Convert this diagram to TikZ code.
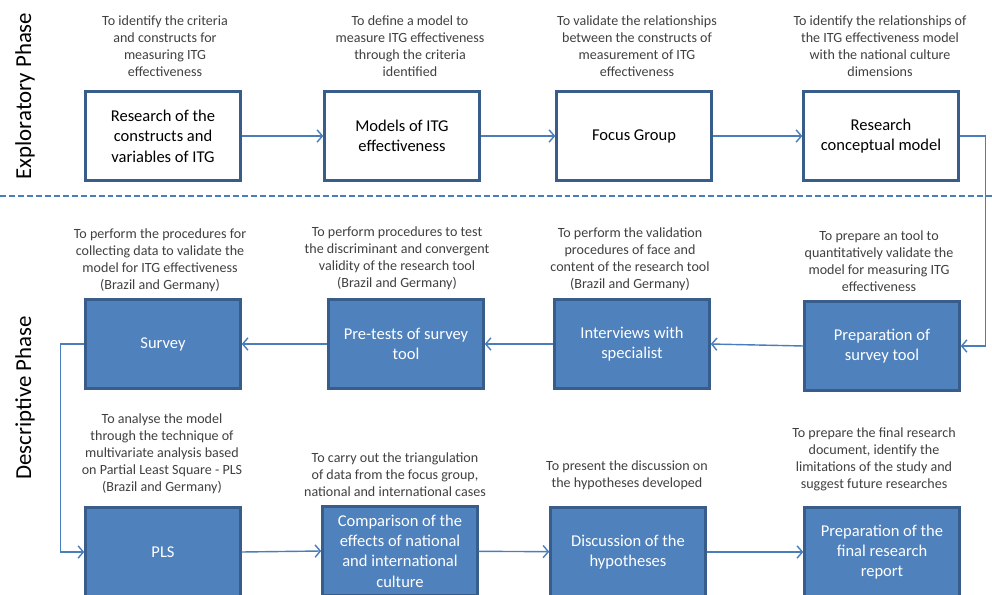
\documentclass[tikz,border=0pt]{standalone}
\usepackage{fontspec}
\setmainfont{Carlito}
\usetikzlibrary{arrows.meta}
\definecolor{boxblue}{HTML}{4F81BD}
\definecolor{boxedge}{HTML}{385D8A}
\definecolor{linkblue}{HTML}{4A7EBB}
\definecolor{notegray}{HTML}{404040}
\tikzset{
  phasebox/.style={draw=boxedge, line width=1.4pt, minimum width=3.1cm, minimum height=1.78cm, inner sep=2pt, align=center, font=\fontsize{9.4}{11.6}\selectfont},
  openbox/.style={phasebox, fill=white, text=black},
  fillbox/.style={phasebox, fill=boxblue, text=white},
  note/.style={anchor=south, align=center, text=notegray, inner sep=0pt, font=\fontsize{8}{9.7}\selectfont},
  link/.style={draw=linkblue, line width=0.8pt, -{Straight Barb[length=3pt,width=7pt]}},
  phase/.style={rotate=90, font=\fontsize{13}{15}\selectfont}
}
\begin{document}
\begin{tikzpicture}[x=0.02cm,y=-0.02cm]
\useasboundingbox (0,0) rectangle (992,595);
% phases
\node[phase] (explo) at (25,96) {Exploratory Phase};
\node[phase] (descr) at (25,398) {Descriptive Phase};
\draw[linkblue, line width=0.8pt, dash pattern=on 3.4pt off 1.7pt] (0,196) -- (992,196);
% exploratory row
\node[openbox] (research) at (163,136) {Research of the\\constructs and\\variables of ITG};
\node[openbox] (models) at (402,136) {Models of ITG\\effectiveness};
\node[openbox] (focus) at (634,136) {Focus Group};
\node[openbox] (concept) at (881,136) {Research\\conceptual model};
\node[note] (noteresearch) at (165,77) {To identify the criteria\\and constructs for\\measuring ITG\\effectiveness};
\node[note] (notemodels) at (410,77) {To define a model to\\measure ITG effectiveness\\through the criteria\\identified};
\node[note] (notefocus) at (637,77) {To validate the relationships\\between the constructs of\\measurement of ITG\\effectiveness};
\node[note] (noteconcept) at (880,77) {To identify the relationships of\\the ITG effectiveness model\\with the national culture\\dimensions};
% descriptive rows
\node[fillbox] (survey) at (163,344) {Survey};
\node[fillbox] (pretest) at (406,344) {Pre-tests of survey\\tool};
\node[fillbox] (interview) at (632,344) {Interviews with\\specialist};
\node[fillbox] (prepare) at (882,346) {Preparation of\\survey tool};
\node[note] (notesurvey) at (160,292) {To perform the procedures for\\collecting data to validate the\\model for ITG effectiveness\\(Brazil and Germany)};
\node[note] (notepretest) at (397,290) {To perform procedures to test\\the discriminant and convergent\\validity of the research tool\\(Brazil and Germany)};
\node[note] (noteinterview) at (630,291) {To perform the validation\\procedures of face and\\content of the research tool\\(Brazil and Germany)};
\node[note] (noteprepare) at (879,292) {To prepare an tool to\\quantitatively validate the\\model for measuring ITG\\effectiveness};
\node[fillbox] (pls) at (163,552) {PLS};
\node[fillbox] (compare) at (400,551) {Comparison of the\\effects of national\\and international\\culture};
\node[fillbox] (discuss) at (628,552) {Discussion of the\\hypotheses};
\node[fillbox] (final) at (882,552) {Preparation of the\\final research\\report};
\node[note] (notepls) at (162,494) {To analyse the model\\through the technique of\\multivariate analysis based\\on Partial Least Square - PLS\\(Brazil and Germany)};
\node[note] (notecompare) at (395,497) {To carry out the triangulation\\of data from the focus group,\\national and international cases};
\node[note] (notediscuss) at (627,490) {To present the discussion on\\the hypotheses developed};
\node[note] (notefinal) at (874,491) {To prepare the final research\\document, identify the\\limitations of the study and\\suggest future researches};
% links
\draw[link] (research) -- (models);
\draw[link] (models) -- (focus);
\draw[link] (focus) -- (concept);
\draw[link] (concept.east) -- ++(26,0) |- (prepare.east);
\draw[link] (prepare.west) -- (interview.east);
\draw[link] (interview) -- (pretest);
\draw[link] (pretest) -- (survey);
\draw[link] (survey.west) -- ++(-24,0) |- (pls.west);
\draw[link] (pls.east) -- (compare.west);
\draw[link] (compare) -- (discuss);
\draw[link] (discuss) -- (final);
\end{tikzpicture}
\end{document}
